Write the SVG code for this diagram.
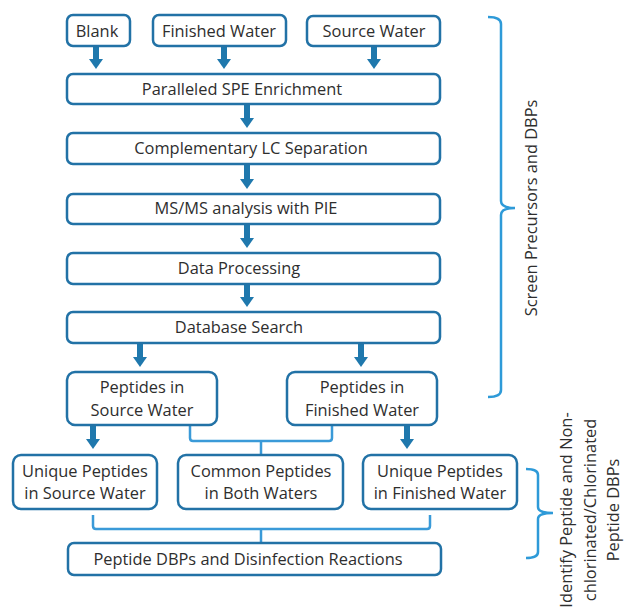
<svg xmlns="http://www.w3.org/2000/svg" width="624" height="611" viewBox="0 0 624 611">
<defs>
<marker id="ah" markerUnits="userSpaceOnUse" markerWidth="16" markerHeight="16" viewBox="0 -8 10 16" refX="1" refY="0" orient="auto">
<path d="M0,-7 L10,0 L0,7 Z" fill="#1f78ad"/>
</marker>
</defs>
<style>
.box{fill:#ffffff;stroke:#2272a6;stroke-width:2.5}
.t{font-family:"Open Sans","Noto Sans","Liberation Sans",sans-serif;font-size:16.4px;fill:#2e2e2e;text-anchor:middle}
.arr{stroke:#1f78ad;stroke-width:6;fill:none}
.con{stroke:#3a9ad8;stroke-width:2.5;fill:none;stroke-linejoin:round}
.brace{stroke:#2e9ad8;stroke-width:2.5;fill:none}
</style>
<rect width="624" height="611" fill="#ffffff"/>
<g id="connectors">
<line class="arr" x1="96" y1="46" x2="96" y2="60" marker-end="url(#ah)"/>
<line class="arr" x1="224" y1="46" x2="224" y2="60" marker-end="url(#ah)"/>
<line class="arr" x1="374" y1="46" x2="374" y2="60" marker-end="url(#ah)"/>
<line class="arr" x1="247" y1="104" x2="247" y2="119" marker-end="url(#ah)"/>
<line class="arr" x1="247" y1="164" x2="247" y2="180" marker-end="url(#ah)"/>
<line class="arr" x1="247" y1="224" x2="247" y2="239" marker-end="url(#ah)"/>
<line class="arr" x1="247" y1="284" x2="247" y2="298" marker-end="url(#ah)"/>
<line class="arr" x1="140" y1="343" x2="140" y2="358" marker-end="url(#ah)"/>
<line class="arr" x1="361" y1="343" x2="361" y2="358" marker-end="url(#ah)"/>
<line class="arr" x1="93" y1="425" x2="93" y2="440" marker-end="url(#ah)"/>
<line class="arr" x1="407" y1="425" x2="407" y2="440" marker-end="url(#ah)"/>
<path class="con" d="M190,425 L190,438 Q190,441 193,441 L329,441 Q332,441 332,438 L332,425 M261,441 L261,455"/>
<path class="con" d="M93,515 L93,526 Q93,529 96,529 L427,529 Q430,529 430,526 L430,515 M261,529 L261,543"/>
</g>
<g id="n-blank"><rect class="box" x="67" y="15" width="63" height="31" rx="6"/><text class="t" x="97" y="36.5">Blank</text></g>
<g id="n-finished"><rect class="box" x="153" y="15" width="133" height="31" rx="6"/><text class="t" x="219" y="36.5">Finished Water</text></g>
<g id="n-source"><rect class="box" x="307" y="16" width="133" height="30" rx="6"/><text class="t" x="374" y="36.5">Source Water</text></g>
<g id="n-spe"><rect class="box" x="67" y="74" width="373" height="30" rx="6"/><text class="t" x="242" y="94.5">Paralleled SPE Enrichment</text></g>
<g id="n-lc"><rect class="box" x="67" y="133" width="373" height="31" rx="6"/><text class="t" x="251" y="154">Complementary LC Separation</text></g>
<g id="n-msms"><rect class="box" x="67" y="194" width="373" height="30" rx="6"/><text class="t" x="246" y="214">MS/MS analysis with PIE</text></g>
<g id="n-data"><rect class="box" x="67" y="253" width="373" height="31" rx="6"/><text class="t" x="239" y="274">Data Processing</text></g>
<g id="n-db"><rect class="box" x="67" y="312" width="373" height="31" rx="6"/><text class="t" x="239" y="333">Database Search</text></g>
<g id="n-pep-source"><rect class="box" x="67" y="372" width="150" height="53" rx="8"/><text class="t" x="142" y="393">Peptides in</text><text class="t" x="142" y="416">Source Water</text></g>
<g id="n-pep-finished"><rect class="box" x="287" y="372" width="150" height="53" rx="8"/><text class="t" x="362" y="393">Peptides in</text><text class="t" x="362" y="416">Finished Water</text></g>
<g id="n-uniq-source"><rect class="box" x="13" y="455" width="144" height="54" rx="8"/><text class="t" x="85" y="477">Unique Peptides</text><text class="t" x="85" y="499">in Source Water</text></g>
<g id="n-common"><rect class="box" x="178" y="455" width="165" height="54" rx="8"/><text class="t" x="261" y="477">Common Peptides</text><text class="t" x="261" y="499">in Both Waters</text></g>
<g id="n-uniq-finished"><rect class="box" x="363" y="455" width="154" height="54" rx="8"/><text class="t" x="440" y="477">Unique Peptides</text><text class="t" x="440" y="499">in Finished Water</text></g>
<g id="n-dbps"><rect class="box" x="68" y="543" width="373" height="32" rx="6"/><text class="t" x="248" y="564.5">Peptide DBPs and Disinfection Reactions</text></g>
<g id="brace-screen">
<path class="brace" d="M488,17 Q501,17 501,24 L501,201 Q501,208 515,208 Q501,208 501,215 L501,390 Q501,397 488,397"/>
<text class="t" transform="translate(537,208) rotate(-90)">Screen Precursors and DBPs</text>
</g>
<g id="brace-identify">
<path class="brace" d="M526,469 Q538,469 538,475 L538,507 Q538,513 553,513 Q538,513 538,519 L538,552 Q538,558 526,558"/>
<text class="t" transform="translate(572,510) rotate(-90)">Identify Peptide and Non-</text>
<text class="t" transform="translate(596,510) rotate(-90)">chlorinated/Chlorinated</text>
<text class="t" transform="translate(619,510) rotate(-90)">Peptide DBPs</text>
</g>
</svg>
